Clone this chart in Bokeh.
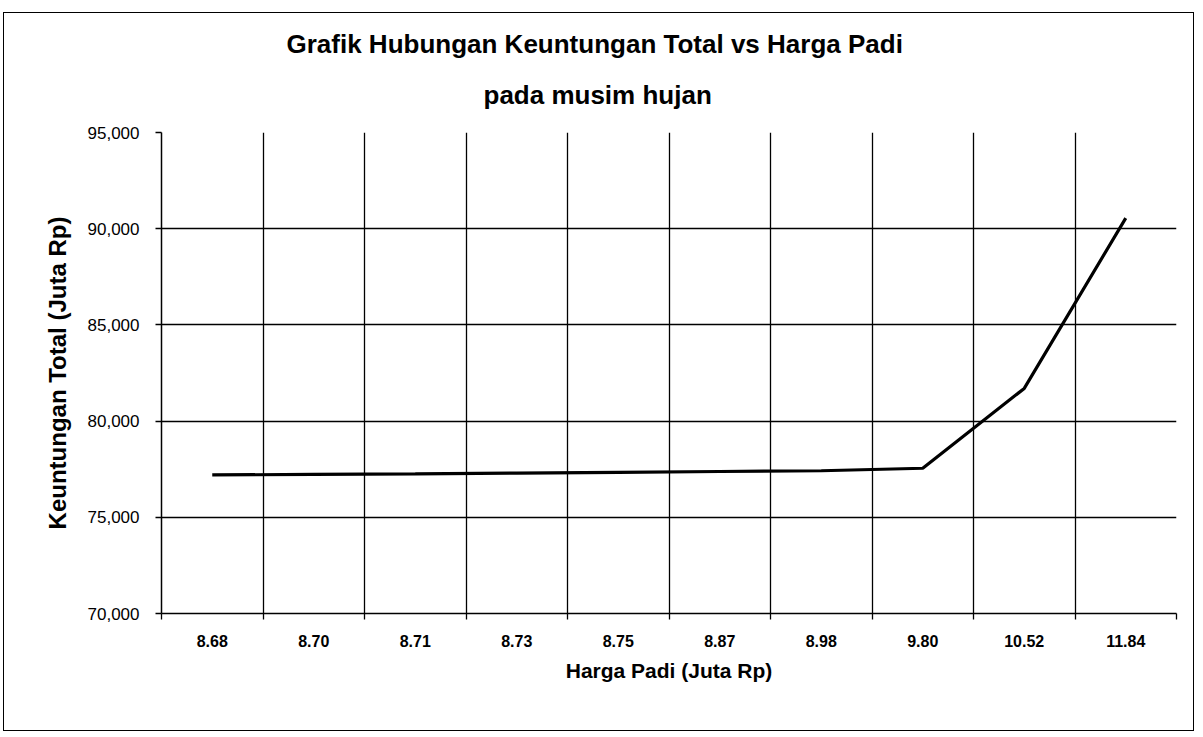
from bokeh.plotting import figure
from bokeh.models import FixedTicker, NumeralTickFormatter, Range1d, Title
from bokeh.embed import file_html
from bokeh.resources import INLINE

# Data
harga_padi = ["8.68", "8.70", "8.71", "8.73", "8.75", "8.87", "8.98", "9.80", "10.52", "11.84"]
keuntungan_total = [77200, 77230, 77260, 77300, 77340, 77380, 77420, 77550, 81700, 90550]
title_lines = ["Grafik Hubungan  Keuntungan Total  vs Harga Padi", "pada musim hujan"]

n = len(harga_padi)
xs = [i + 0.5 for i in range(n)]
centers = xs
boundaries = list(range(0, n + 1))

p = figure(width=1191, height=719, output_backend="svg", toolbar_location=None,
           x_range=Range1d(0, n), y_range=Range1d(70000, 95000),
           min_border_left=157, min_border_right=19, min_border_top=119, min_border_bottom=119,
           title=None)
p.margin = (12, 0, 0, 3)
p.styles = {"border": "1.5px solid black"}
p.outline_line_color = None
p.background_fill_color = "white"
p.border_fill_color = "white"

# Titles (second line added first so it sits closest to the plot)
t2 = Title(text=title_lines[1], align="left", offset=322, standoff=42, vertical_align="top",
           text_font="Liberation Sans", text_font_style="bold", text_font_size="26px",
           text_color="black")
t1 = Title(text=title_lines[0], align="left", offset=125, standoff=0, vertical_align="bottom",
           text_font="Liberation Sans", text_font_style="bold", text_font_size="26px",
           text_color="black")
p.add_layout(t2, "above")
p.add_layout(t1, "above")

p.line(xs, keuntungan_total, line_color="black", line_width=3.2)

# X axis
xa = p.xaxis[0]
xa.ticker = FixedTicker(ticks=centers, minor_ticks=boundaries)
xa.major_label_overrides = {c: lab for c, lab in zip(centers, harga_padi)}
xa.major_tick_out = 0
xa.major_tick_in = 0
xa.minor_tick_out = 6
xa.minor_tick_in = 0
xa.minor_tick_line_color = "black"
xa.minor_tick_line_width = 1.3
xa.axis_line_color = "black"
xa.axis_line_width = 1.5
xa.major_label_standoff = 15
xa.major_label_text_font = "Liberation Sans"
xa.major_label_text_font_style = "bold"
xa.major_label_text_font_size = "16px"
xa.major_label_text_color = "black"
xa.axis_label = "Harga Padi (Juta Rp)"
xa.axis_label_text_font = "Liberation Sans"
xa.axis_label_text_font_style = "bold"
xa.axis_label_text_font_size = "21px"
xa.axis_label_text_color = "black"
xa.axis_label_standoff = 9

# Y axis
ya = p.yaxis[0]
ya.ticker = FixedTicker(ticks=[70000, 75000, 80000, 85000, 90000, 95000])
ya.formatter = NumeralTickFormatter(format="0,0")
ya.major_tick_out = 6
ya.major_tick_in = 0
ya.major_tick_line_color = "black"
ya.major_tick_line_width = 1.3
ya.minor_tick_line_color = None
ya.axis_line_color = "black"
ya.axis_line_width = 1.5
ya.major_label_standoff = 16
ya.major_label_text_font = "Liberation Sans"
ya.major_label_text_font_size = "17px"
ya.major_label_text_color = "black"
ya.axis_label = "Keuntungan Total (Juta Rp)"
ya.axis_label_text_font = "Liberation Sans"
ya.axis_label_text_font_style = "bold"
ya.axis_label_text_font_size = "24px"
ya.axis_label_text_color = "black"
ya.axis_label_standoff = 14

# Grids
p.xgrid.ticker = FixedTicker(ticks=boundaries[1:-1])
p.xgrid.grid_line_color = "black"
p.xgrid.grid_line_width = 1.3
p.ygrid.ticker = FixedTicker(ticks=[75000, 80000, 85000, 90000])
p.ygrid.grid_line_color = "black"
p.ygrid.grid_line_width = 1.3

open("out.html", "w").write(file_html(p, INLINE))
